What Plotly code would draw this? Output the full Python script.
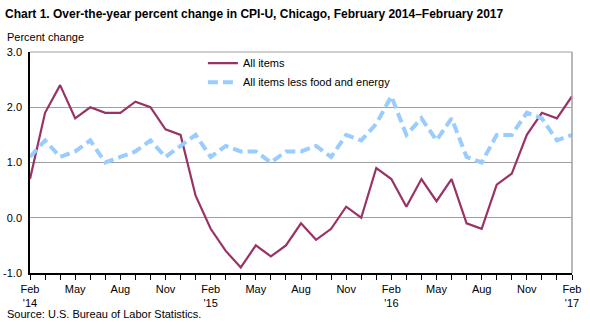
import plotly.graph_objects as go

months = ["Feb '14","Mar","Apr","May","Jun","Jul","Aug","Sep","Oct","Nov","Dec",
          "Jan '15","Feb '15","Mar","Apr","May","Jun","Jul","Aug","Sep","Oct","Nov","Dec",
          "Jan '16","Feb '16","Mar","Apr","May","Jun","Jul","Aug","Sep","Oct","Nov","Dec",
          "Jan '17","Feb '17"]
all_items = [0.7, 1.9, 2.4, 1.8, 2.0, 1.9, 1.9, 2.1, 2.0, 1.6, 1.5,
             0.4, -0.2, -0.6, -0.9, -0.5, -0.7, -0.5, -0.1, -0.4, -0.2, 0.2, 0.0,
             0.9, 0.7, 0.2, 0.7, 0.3, 0.7, -0.1, -0.2, 0.6, 0.8, 1.5, 1.9,
             1.8, 2.2]
core = [1.1, 1.4, 1.1, 1.2, 1.4, 1.0, 1.1, 1.2, 1.4, 1.1, 1.3,
        1.5, 1.1, 1.3, 1.2, 1.2, 1.0, 1.2, 1.2, 1.3, 1.1, 1.5, 1.4,
        1.7, 2.2, 1.5, 1.8, 1.4, 1.8, 1.1, 1.0, 1.5, 1.5, 1.9, 1.8,
        1.4, 1.5]
tick_labels = {0: "Feb<br>'14", 3: "May", 6: "Aug", 9: "Nov", 12: "Feb<br>'15", 15: "May",
               18: "Aug", 21: "Nov", 24: "Feb<br>'16", 27: "May", 30: "Aug", 33: "Nov",
               36: "Feb<br>'17"}
y_ticks = [-1.0, 0.0, 1.0, 2.0, 3.0]

x = list(range(len(months)))
FONT = "Arial, Liberation Sans, sans-serif"

W, H = 590, 326
L, R, T, B = 30, 18, 52, 53
PW, PH = W - L - R, H - T - B


def px_to_paper(px, py):
    return (px - L) / PW, (H - B - py) / PH


pc_x, pc_y = px_to_paper(5, 37)
src_x, src_y = px_to_paper(5, 314)
leg_x, leg_y = px_to_paper(173, 50)

fig = go.Figure()
fig.add_trace(go.Scatter(x=x, y=all_items, mode="lines", name="All items",
                         line=dict(color="#993366", width=2.2)))
fig.add_trace(go.Scatter(x=x, y=core, mode="lines", name="All items less food and energy",
                         line=dict(color="#99CCFF", width=4, dash="10px,5px")))

fig.update_layout(
    width=W, height=H,
    margin=dict(l=L, r=R, t=T, b=B, autoexpand=False),
    paper_bgcolor="white", plot_bgcolor="white",
    font=dict(family=FONT, size=11, color="black"),
    title=dict(text="<b>Chart 1. Over-the-year percent change in CPI-U, Chicago, February 2014–February 2017</b>",
               x=5/W, xanchor="left", y=1-14/H, yanchor="middle",
               font=dict(family=FONT, size=12, color="black")),
    showlegend=True,
    legend=dict(x=0.319, y=1.015, xanchor="left", yanchor="top", bgcolor="rgba(0,0,0,0)",
                font=dict(size=11), itemwidth=30, tracegroupgap=0),
    annotations=[
        dict(text="Percent change", x=pc_x, y=pc_y, xref="paper", yref="paper",
             showarrow=False, xanchor="left", yanchor="middle", font=dict(size=11)),
        dict(text="Source: U.S. Bureau of Labor Statistics.", x=src_x, y=src_y,
             xref="paper", yref="paper", showarrow=False, xanchor="left", yanchor="middle",
             font=dict(size=11)),
    ],
    shapes=[dict(type="line", xref="paper", yref="paper", x0=1, x1=1, y0=0, y1=1,
                 line=dict(color="#a0a0a0", width=1.5)),
            dict(type="line", xref="paper", yref="paper", x0=0, x1=1, y0=1, y1=1,
                 line=dict(color="#a0a0a0", width=1), layer="below")],
)

fig.update_xaxes(range=[0, 36], tickmode="array", tickvals=list(range(37)),
                 ticktext=[tick_labels.get(i, "") for i in range(37)],
                 ticks="outside", ticklen=5, tickcolor="black", tickwidth=1,
                 showline=True, linecolor="black", linewidth=1.5,
                 showgrid=False, zeroline=False, tickangle=0, automargin=False)
fig.update_yaxes(range=[-1, 3], tickmode="array", tickvals=y_ticks,
                 ticktext=[f"{v:.1f}" for v in y_ticks],
                 showline=True, linecolor="black", linewidth=1.5,
                 showgrid=True, gridcolor="#a0a0a0", gridwidth=1,
                 zeroline=False, ticks="", ticklabelstandoff=4, automargin=False)

fig.write_html("out.html")
